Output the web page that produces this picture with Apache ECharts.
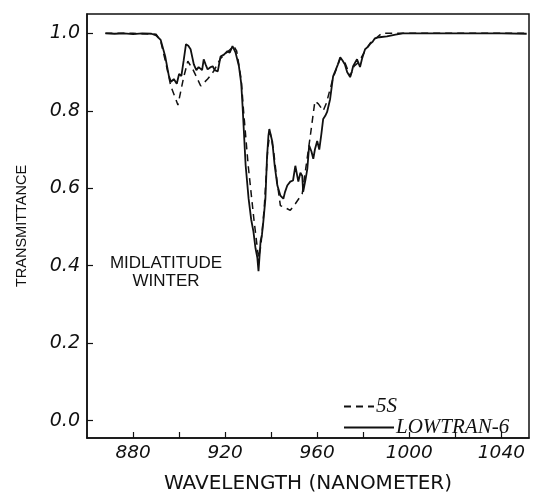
<!DOCTYPE html>
<html>
<head>
<meta charset="utf-8">
<script src="https://cdn.jsdelivr.net/npm/echarts@6/dist/echarts.min.js"></script>
<style>
html,body{margin:0;padding:0;background:#fff;}
#c{width:533px;height:499px;}
</style>
</head>
<body>
<div id="c"></div>
<script>
// LOWTRAN-6 (solid)
var wlLowtran = [868,872,876,880,884,888,890,892,894,895.6,896.5,897.7,899,900,901,902,903,904,905,906.4,907.5,908.5,910,910.7,911.5,912.4,913.5,914.6,915.5,916.8,918,919.5,921,922,923.2,924.5,926,927,927.6,928.9,930.2,931.3,932.3,933.2,934,934.5,935.4,936,936.6,937.5,938.2,938.8,939.2,940.5,941.5,942.7,944,945.3,946,947,948.3,949.5,950.5,951.8,952.7,953.5,953.9,955,955.7,956.5,957.5,958.3,959,960,960.9,961.8,962.6,963.5,964.3,965.6,966.9,968,969,970,971,972,973,974.3,975,975.6,977.3,978.6,979.5,980.8,982,982.9,984,985,987,990.3,994,997.2,1000,1010,1020,1030,1040,1051];
var trLowtran = [1.0,0.999,1.0,0.998,1.0,0.999,0.995,0.983,0.94,0.889,0.875,0.882,0.87,0.895,0.89,0.93,0.972,0.968,0.959,0.92,0.905,0.913,0.905,0.933,0.92,0.907,0.912,0.915,0.905,0.902,0.94,0.945,0.954,0.95,0.967,0.951,0.915,0.87,0.81,0.66,0.573,0.52,0.488,0.445,0.42,0.386,0.463,0.48,0.514,0.573,0.68,0.735,0.753,0.72,0.66,0.607,0.581,0.573,0.59,0.607,0.617,0.62,0.658,0.617,0.64,0.632,0.591,0.625,0.65,0.71,0.695,0.676,0.70,0.722,0.70,0.74,0.779,0.787,0.797,0.83,0.889,0.905,0.92,0.938,0.93,0.92,0.90,0.887,0.9,0.915,0.933,0.913,0.935,0.959,0.965,0.972,0.978,0.987,0.99,0.992,0.997,1.0,1.0,1.0,1.0,1.0,1.0,0.999];
// 5S (dashed)
var wl5S = [868,880,890,892,894,896.4,899.5,902,903.8,906,908,909.4,912.4,915,918,921,923.7,925,927,928,930,932.5,934.5,935.5,937,938.5,939.5,941,942.5,944,946,948.3,950.5,953.5,955,957,959,960.5,962.6,964,966.9,970,972,974.3,976,978,980.8,983,986,988,995,1010,1030,1051];
var tr5S = [1.0,1.0,0.998,0.98,0.93,0.864,0.815,0.887,0.928,0.907,0.882,0.864,0.882,0.902,0.935,0.952,0.967,0.955,0.88,0.80,0.66,0.52,0.42,0.45,0.55,0.70,0.745,0.70,0.62,0.555,0.55,0.543,0.56,0.586,0.65,0.735,0.825,0.818,0.80,0.82,0.885,0.935,0.925,0.89,0.915,0.925,0.955,0.975,0.99,1.0,1.0,1.0,1.0,1.0];
var xTicks = [880,900,920,940,960,980,1000,1020,1040];
var xLabels = [880,920,960,1000,1040];
var yTicks = [0.0,0.2,0.4,0.6,0.8,1.0];

function pairs(xs, ys){ return xs.map(function(x,i){ return [x, ys[i]]; }); }

var chart = echarts.init(document.getElementById('c'), null, {renderer:'canvas'});
chart.setOption({
  animation:false,
  backgroundColor:'#fff',
  grid:{left:87, right:4, top:14, bottom:59, show:true, borderColor:'#111', borderWidth:1.5, backgroundColor:'transparent'},
  xAxis:{
    type:'value', min:860, max:1052,
    name:'WAVELENGTH (NANOMETER)', nameLocation:'middle', nameGap:36,
    nameTextStyle:{fontFamily:'DejaVu Sans', fontSize:20, color:'#111'},
    axisLine:{show:true, onZero:false, lineStyle:{color:'#111', width:1.5}},
    axisTick:{show:true, inside:true, length:6, lineStyle:{color:'#111', width:1.2}, customValues:xTicks},
    axisLabel:{show:true, margin:6, customValues:xLabels, formatter:function(v){return String(v);}, fontFamily:'DejaVu Sans', fontStyle:'italic', fontSize:18.5, color:'#111'},
    splitLine:{show:false}
  },
  yAxis:{
    type:'value', min:-0.045, max:1.05,
    name:'TRANSMITTANCE', nameLocation:'middle', nameGap:58,
    nameTextStyle:{fontFamily:'Liberation Sans', fontSize:14.5, color:'#111'},
    axisLine:{show:true, onZero:false, lineStyle:{color:'#111', width:1.5}},
    axisTick:{show:true, inside:true, length:6, lineStyle:{color:'#111', width:1.2}, customValues:yTicks},
    axisLabel:{show:true, margin:7, customValues:yTicks, formatter:function(v){return v.toFixed(1);}, fontFamily:'DejaVu Sans', fontStyle:'italic', fontSize:19, color:'#111'},
    splitLine:{show:false}
  },
  legend:[
    {data:['5S'], orient:'vertical', left:338, top:391, itemWidth:30, itemHeight:14,
     itemStyle:{opacity:0},
     textStyle:{fontFamily:'Liberation Serif', fontStyle:'italic', fontSize:21, color:'#111', padding:[0,0,0,-3]}},
    {data:['LOWTRAN-6'], orient:'vertical', left:338, top:412, itemWidth:50, itemHeight:14,
     itemStyle:{opacity:0},
     textStyle:{fontFamily:'Liberation Serif', fontStyle:'italic', fontSize:21, color:'#111', padding:[0,0,0,-3]}}
  ],
  graphic:[
    {type:'text', x:166, y:254, style:{text:'MIDLATITUDE\nWINTER', textAlign:'center', fontFamily:'Liberation Sans', fontSize:17, lineHeight:18, fill:'#111'}}
  ],
  series:[
    {name:'5S', type:'line', data:pairs(wl5S, tr5S), symbol:'none', color:'#111',
     lineStyle:{color:'#111', width:1.5, type:[7,5]}, z:2},
    {name:'LOWTRAN-6', type:'line', data:pairs(wlLowtran, trLowtran), symbol:'none', color:'#111',
     lineStyle:{color:'#111', width:1.8, type:'solid'}, z:3}
  ]
});
</script>
</body>
</html>
